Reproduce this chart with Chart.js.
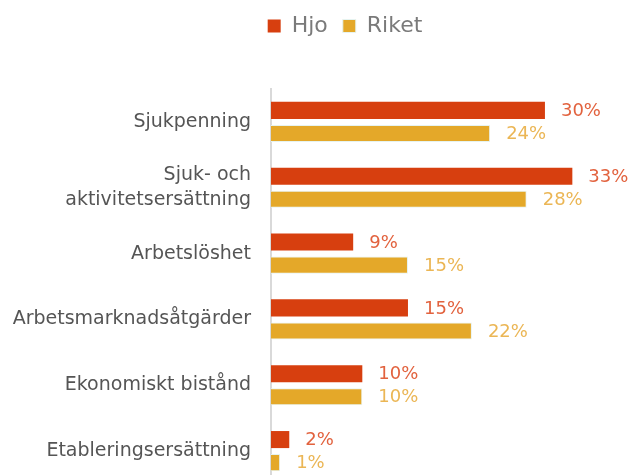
<!DOCTYPE html>
<html>
<head>
<meta charset="utf-8">
<script src="https://cdn.jsdelivr.net/npm/chart.js@4"></script>
<style>
  html, body { margin: 0; padding: 0; background: #fff; overflow: hidden; }
</style>
</head>
<body>
<canvas id="myChart" width="628" height="484"></canvas>
<script>
const categories = [
    'Sjukpenning',
    ['Sjuk- och', 'aktivitetsersättning'],
    'Arbetslöshet',
    'Arbetsmarknadsåtgärder',
    'Ekonomiskt bistånd',
    'Etableringsersättning'
];
const hjoValues = [30, 33, 9, 15, 10, 2];
const riketValues = [24, 28, 15, 22, 10, 1];

const hjoColor = '#d73f0f';
const riketColor = '#e4a829';
const fontFamily = '"DejaVu Sans", sans-serif';

// draws the percentage next to the end of each bar
const valueLabels = {
    id: 'valueLabels',
    afterDatasetsDraw(chart) {
        const ctx = chart.ctx;
        ctx.save();
        ctx.font = '18px ' + fontFamily;
        ctx.textBaseline = 'middle';
        ctx.textAlign = 'left';
        chart.data.datasets.forEach((ds, i) => {
            const meta = chart.getDatasetMeta(i);
            ctx.fillStyle = ds.labelColor;
            meta.data.forEach((bar, j) => {
                ctx.fillText(ds.data[j] + '%', bar.x + 16, bar.y + 1);
            });
        });
        ctx.restore();
    }
};

// extra room below the legend, and legend shifted a bit to the right
const legendSpace = {
    id: 'legendSpace',
    beforeInit(chart) {
        const fit = chart.legend.fit;
        chart.legend.fit = function () {
            fit.bind(this)();
            this.height += 42;
        };
    },
    afterLayout(chart) {
        chart.legend.left += 72;
    }
};

const ctx = document.getElementById('myChart').getContext('2d');
const myChart = new Chart(ctx, {
    type: 'bar',
    data: {
        labels: categories,
        datasets: [{
            label: 'Hjo',
            data: hjoValues,
            backgroundColor: hjoColor,
            labelColor: '#e2623e',
            categoryPercentage: 0.7,
            barPercentage: 0.74
        }, {
            label: 'Riket',
            data: riketValues,
            backgroundColor: riketColor,
            borderColor: '#e6f3f0',
            borderWidth: 1,
            labelColor: '#ebb655',
            categoryPercentage: 0.7,
            barPercentage: 0.74
        }]
    },
    plugins: [valueLabels, legendSpace],
    options: {
        indexAxis: 'y',
        responsive: false,
        animation: false,
        layout: { padding: { left: 0, right: 10, top: 0, bottom: 0 } },
        plugins: {
            legend: {
                position: 'top',
                labels: {
                    boxWidth: 13,
                    boxHeight: 13,
                    padding: 15,
                    color: '#7a7a7a',
                    font: { family: fontFamily, size: 22 }
                }
            },
            tooltip: { enabled: false }
        },
        scales: {
            x: {
                display: false,
                min: 0,
                max: 38
            },
            y: {
                afterFit(scale) {
                    scale.width = 271;
                    scale.paddingTop = 0;
                    scale.paddingBottom = 0;
                },
                grid: { display: false, drawTicks: false },
                border: { display: true, color: '#d9d9d9', width: 2 },
                ticks: {
                    padding: 20,
                    color: '#555555',
                    font: { family: fontFamily, size: 19, lineHeight: 1.32 }
                }
            }
        }
    }
});
</script>
</body>
</html>
